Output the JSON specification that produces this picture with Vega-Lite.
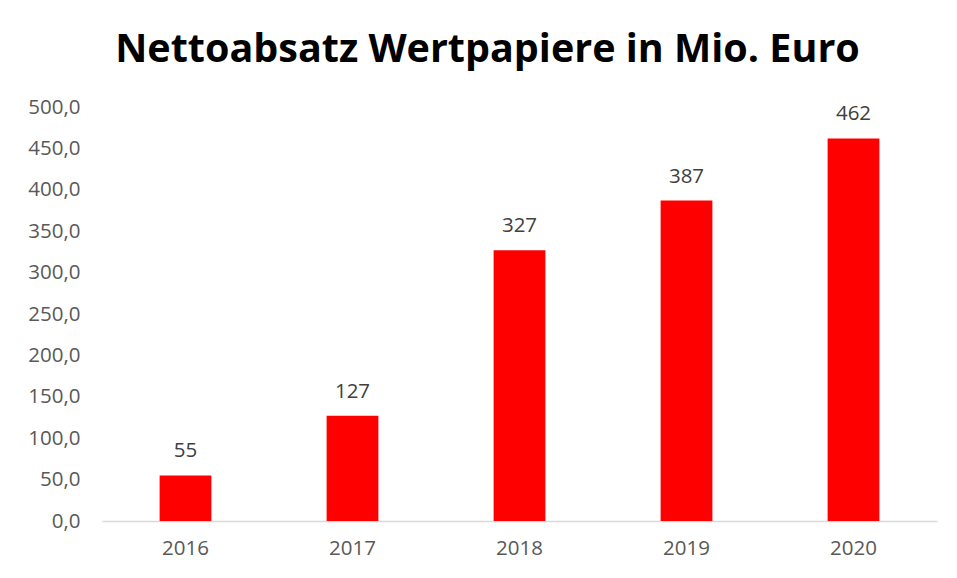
{
  "$schema": "https://vega.github.io/schema/vega-lite/v6.json",
  "width": 835,
  "height": 414,
  "autosize": {"type": "none"},
  "padding": {"left": 102, "top": 107, "right": 20, "bottom": 57},
  "background": "white",
  "title": {
    "text": "Nettoabsatz Wertpapiere in Mio. Euro",
    "font": "Open Sans",
    "fontSize": 39.5,
    "fontWeight": "bold",
    "color": "#000000",
    "anchor": "middle",
    "dx": -32,
    "offset": 27
  },
  "data": {
    "values": [
      {"Jahr": "2016", "Wert": 55},
      {"Jahr": "2017", "Wert": 127},
      {"Jahr": "2018", "Wert": 327},
      {"Jahr": "2019", "Wert": 387},
      {"Jahr": "2020", "Wert": 462}
    ]
  },
  "encoding": {
    "x": {
      "field": "Jahr",
      "type": "ordinal",
      "scale": {"paddingInner": 0.69, "paddingOuter": 0.345},
      "axis": {
        "title": null,
        "labelAngle": 0,
        "ticks": false,
        "domainColor": "#d9d9d9",
        "domainWidth": 1.5,
        "labelFont": "Open Sans",
        "labelFontSize": 20.5,
        "labelColor": "#595959",
        "labelPadding": 17
      }
    },
    "y": {
      "field": "Wert",
      "type": "quantitative",
      "scale": {"domain": [0, 500]},
      "axis": {
        "title": null,
        "values": [0, 50, 100, 150, 200, 250, 300, 350, 400, 450, 500],
        "labelExpr": "replace(format(datum.value, '.1f'), '.', ',')",
        "grid": false,
        "ticks": false,
        "domain": false,
        "labelFont": "Open Sans",
        "labelFontSize": 20.5,
        "labelColor": "#595959",
        "labelPadding": 22
      }
    }
  },
  "layer": [
    {"mark": {"type": "bar", "color": "#ff0000"}},
    {
      "mark": {"type": "text", "baseline": "bottom", "dy": -14, "font": "Open Sans", "fontSize": 20.5, "color": "#404040"},
      "encoding": {"text": {"field": "Wert", "type": "quantitative", "format": "d"}}
    }
  ],
  "config": {"view": {"stroke": null}}
}
